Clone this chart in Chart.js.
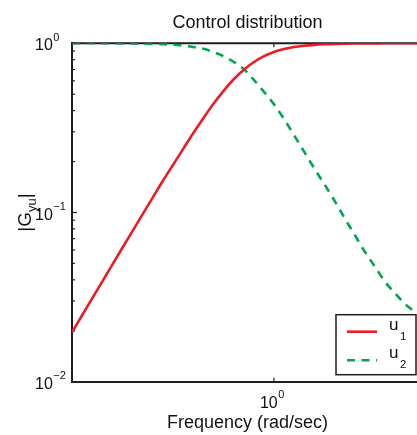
<!DOCTYPE html>
<html><head><meta charset="utf-8">
<script src="https://cdn.jsdelivr.net/npm/chart.js@4"></script>
<style>html,body{margin:0;padding:0;background:#fff;overflow:hidden}#wrap{width:430px;height:435px}</style>
</head><body><div id="wrap"><canvas id="c" width="430" height="435"></canvas></div>
<script>
const titleText = 'Control distribution';
const xTitleText = 'Frequency (rad/sec)';
const yTitleMain = '|G';
const yTitleSub = 'yu';
const yTitleEnd = '|';

const freq = [0.01, 0.0126, 0.0158, 0.02, 0.025, 0.0316, 0.04, 0.05, 0.063, 0.079, 0.1, 0.126, 0.158, 0.2, 0.25, 0.316, 0.4, 0.5, 0.63, 0.79, 1, 1.26, 1.58, 2, 2.5, 3.16, 4, 5, 6.3, 7.9, 10, 12.6, 15.8, 20, 25, 30];
const u1 = [0.0196, 0.0247, 0.031, 0.0392, 0.049, 0.0619, 0.0782, 0.0975, 0.1225, 0.153, 0.191, 0.237, 0.293, 0.361, 0.436, 0.522, 0.613, 0.696, 0.773, 0.837, 0.889, 0.925, 0.951, 0.968, 0.979, 0.987, 0.992, 0.995, 0.997, 0.998, 0.999, 1.0, 1.0, 1.0, 1.0, 1.0];
const u2 = [1.0, 1.0, 1.0, 1.0, 1.0, 0.999, 0.997, 0.995, 0.992, 0.988, 0.981, 0.968, 0.951, 0.928, 0.89, 0.84, 0.777, 0.707, 0.61, 0.52, 0.437, 0.357, 0.287, 0.228, 0.183, 0.147, 0.117, 0.093, 0.074, 0.059, 0.048, 0.039, 0.0334, 0.0287, 0.026, 0.0244];

const seriesBase = ['u', 'u'];
const seriesSub = ['1', '2'];
const yTickVals = [0.01, 0.1, 1];
const yTickExp = ['\u22122', '\u22121', '0'];
const yMinorVals = [0.02, 0.03, 0.04, 0.05, 0.06, 0.07, 0.08, 0.09, 0.2, 0.3, 0.4, 0.5, 0.6, 0.7, 0.8, 0.9];
const xTickVals = [1];
const xTickExp = ['0'];

const FONT = '"Liberation Sans", Arial, Helvetica, sans-serif';
const AX = '#1e1e1e';
const RED = '#ed1c24';
const GREEN = '#00a651';

function powLabel(ctx, x, tickPix, base, exp, mainOff, expOff, align) {
  ctx.font = '16px ' + FONT;
  const w1 = ctx.measureText(base).width;
  ctx.font = '11px ' + FONT;
  const w2 = ctx.measureText(exp).width;
  let sx = x;
  if (align === 'center') sx = x - (w1 + w2) / 2;
  ctx.textAlign = 'left';
  ctx.textBaseline = 'alphabetic';
  ctx.font = '16px ' + FONT;
  ctx.fillText(base, sx, tickPix + mainOff);
  ctx.font = '11px ' + FONT;
  ctx.fillText(exp, sx + w1 + 0.5, tickPix + expOff);
}

const matlabPlugin = {
  id: 'matlab',
  beforeDatasetsDraw(chart) {
    const {ctx, chartArea: a, scales: {x, y}} = chart;
    ctx.save();
    ctx.strokeStyle = AX;
    ctx.lineWidth = 2;
    ctx.beginPath(); ctx.moveTo(a.left - 1, a.top); ctx.lineTo(a.right + 1, a.top); ctx.stroke();
    ctx.lineWidth = 1.2;
    yTickVals.forEach(v => { const p = y.getPixelForValue(v); ctx.beginPath(); ctx.moveTo(a.left, p); ctx.lineTo(a.left + 5, p); ctx.stroke(); });
    yMinorVals.forEach(v => { const p = y.getPixelForValue(v); ctx.beginPath(); ctx.moveTo(a.left, p); ctx.lineTo(a.left + 3, p); ctx.stroke(); });
    xTickVals.forEach(v => {
      const p = x.getPixelForValue(v);
      ctx.beginPath(); ctx.moveTo(p, a.bottom); ctx.lineTo(p, a.bottom - 4); ctx.stroke();
      ctx.beginPath(); ctx.moveTo(p, a.top); ctx.lineTo(p, a.top + 4); ctx.stroke();
    });
    ctx.restore();
  },
  afterDraw(chart) {
    const {ctx, chartArea: a, scales: {x, y}} = chart;
    ctx.save();
    ctx.fillStyle = '#111';
    yTickVals.forEach((v, i) => powLabel(ctx, 35, y.getPixelForValue(v), '10', yTickExp[i], 7, -2.5, 'left'));
    xTickVals.forEach((v, i) => powLabel(ctx, x.getPixelForValue(v) - 2, a.bottom, '10', xTickExp[i], 26.5, 16.5, 'center'));
    ctx.save();
    ctx.translate(31, (a.top + a.bottom) / 2);
    ctx.rotate(-Math.PI / 2);
    ctx.font = '19px ' + FONT; const m1 = ctx.measureText(yTitleMain).width; const m3 = ctx.measureText(yTitleEnd).width;
    ctx.font = '13px ' + FONT; const m2 = ctx.measureText(yTitleSub).width;
    let sx = -(m1 + m2 + m3) / 2;
    ctx.textAlign = 'left'; ctx.textBaseline = 'alphabetic';
    ctx.font = '19px ' + FONT; ctx.fillText(yTitleMain, sx, 0);
    ctx.font = '13px ' + FONT; ctx.fillText(yTitleSub, sx + m1, 5);
    ctx.font = '19px ' + FONT; ctx.fillText(yTitleEnd, sx + m1 + m2, 0);
    ctx.restore();
    const lw = 80, lh = 60;
    const lx = a.right - 87, ly = a.bottom - 67;
    ctx.fillStyle = '#fff';
    ctx.fillRect(lx, ly, lw, lh);
    ctx.strokeStyle = AX; ctx.lineWidth = 1.5;
    ctx.strokeRect(lx, ly, lw, lh);
    chart.data.datasets.forEach((ds, i) => {
      const cy = ly + 17 + i * 28.5;
      ctx.strokeStyle = ds.borderColor; ctx.lineWidth = ds.borderWidth;
      ctx.setLineDash(ds.borderDash || []);
      ctx.beginPath(); ctx.moveTo(lx + 11, cy); ctx.lineTo(lx + 41, cy); ctx.stroke();
      ctx.setLineDash([]);
      ctx.fillStyle = '#111';
      ctx.textAlign = 'left'; ctx.textBaseline = 'alphabetic';
      ctx.font = '17px ' + FONT; ctx.fillText(seriesBase[i], lx + 53, cy - 2);
      const bw = ctx.measureText(seriesBase[i]).width;
      ctx.font = '11.5px ' + FONT; ctx.fillText(seriesSub[i], lx + 53 + bw + 1.5, cy + 8);
    });
    ctx.restore();
  }
};

new Chart(document.getElementById('c'), {
  type: 'line',
  data: {
    datasets: [
      {label: 'u1', data: freq.map((f, i) => ({x: f, y: u1[i]})), borderColor: RED, borderWidth: 2.6, pointRadius: 0, fill: false, cubicInterpolationMode: 'monotone'},
      {label: 'u2', data: freq.map((f, i) => ({x: f, y: u2[i]})), borderColor: GREEN, borderWidth: 2.6, borderDash: [8, 6.5], pointRadius: 0, fill: false, cubicInterpolationMode: 'monotone'}
    ]
  },
  options: {
    responsive: false,
    animation: false,
    devicePixelRatio: 1,
    layout: {padding: {left: 72, right: 7, top: 0, bottom: 0}},
    plugins: {
      legend: {display: false},
      tooltip: {enabled: false},
      title: {display: true, text: titleText, color: '#111', font: {family: FONT, size: 18, weight: 'normal', lineHeight: 1.2}, padding: {top: 12.3, bottom: 9.4}}
    },
    scales: {
      x: {
        type: 'logarithmic', min: 0.01, max: 30,
        ticks: {display: false},
        grid: {display: true, drawOnChartArea: false, drawTicks: false},
        border: {display: true, color: AX, width: 2},
        title: {display: true, text: xTitleText, color: '#111', font: {family: FONT, size: 18, lineHeight: 1.2}, padding: {top: 30.3, bottom: 1.4}}
      },
      y: {
        type: 'logarithmic', min: 0.01, max: 1,
        ticks: {display: false},
        grid: {display: true, drawOnChartArea: false, drawTicks: false},
        border: {display: true, color: AX, width: 2}
      }
    }
  },
  plugins: [matlabPlugin]
});
</script>
</body></html>
